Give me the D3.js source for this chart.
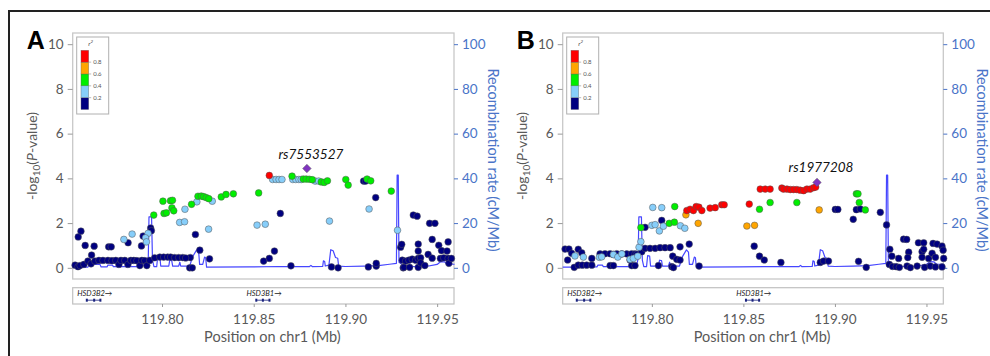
<!DOCTYPE html>
<html><head><meta charset="utf-8">
<script src="https://cdn.jsdelivr.net/npm/d3@7"></script>
<style>body{margin:0;background:#fff}svg{display:block}</style>
</head><body>
<svg id="c" width="990" height="356"></svg>
<script>
// ---------------- DATA ----------------
const xTicks = [119.80, 119.85, 119.90, 119.95];
const yTicks = [0, 2, 4, 6, 8, 10];
const recTicks = [0, 20, 40, 60, 80, 100];
const legendBreaks = [0.8, 0.6, 0.4, 0.2];
const r2Bins = [0, 0.2, 0.4, 0.6, 0.8, 1.0];
const r2Colors = ["#000080", "#87cefa", "#00ee00", "#ffa500", "#ff0000"];
const leadColor = "#8034c0";

const genes = [
  {name: "HSD3B2", start: 119.7589, end: 119.7667, exons: [119.7590, 119.7630, 119.7664]},
  {name: "HSD3B1", start: 119.8513, end: 119.8589, exons: [119.8514, 119.8550, 119.8586]}
];

// recombination rate (cM/Mb) along position (Mb)
const recomb = [
  [119.7513,0.3],[119.7596,0.3],[119.7602,1.5],[119.7662,1.5],[119.7668,0.4],[119.7700,0.4],[119.7705,1.2],[119.7730,1.2],
  [119.7735,0.5],[119.7879,0.5],[119.7890,1.3],[119.7917,1.3],[119.7925,4],[119.7929,22.8],[119.7943,22.8],[119.7948,3.4],
  [119.7956,0.5],[119.7971,0.5],[119.7977,5.5],[119.7988,5.2],[119.7993,0.8],[119.8037,0.8],[119.8042,3.4],[119.8053,3.2],
  [119.8058,0.8],[119.8091,0.8],[119.8097,2.5],[119.8102,0.8],[119.8151,0.8],[119.8167,5],[119.8189,8],[119.8200,7],
  [119.8205,1.5],[119.8222,1.5],[119.8232,4.8],[119.8238,4.5],[119.8243,0.3],[119.8477,0.4],[119.8640,0.6],[119.8803,0.5],
  [119.8812,1.1],[119.8820,0.5],[119.8876,0.6],[119.8880,3.1],[119.8887,2.8],[119.8890,0.8],[119.8910,1.2],[119.8920,8.1],
  [119.8933,7.6],[119.8946,4.6],[119.8958,4.3],[119.8963,0.8],[119.9000,0.6],[119.9100,0.8],[119.9180,1.0],[119.9240,1.6],
  [119.9278,2.0],[119.9282,41.5],[119.9288,41.5],[119.9292,2.5],[119.9300,2.0],[119.9320,0.6],[119.9440,0.6],[119.9500,1.5],
  [119.9520,2.8],[119.9540,2.7],[119.9555,1.6],[119.9595,1.6]
];

// SNPs: [position Mb, -log10 P, r2]
const snpsA = [
  [119.7543,1.38,0.1],[119.7558,1.64,0.1],[119.7581,1.00,0.1],[119.7630,0.97,0.1],[119.7616,0.57,0.1],[119.7709,0.94,0.1],
  [119.7723,0.94,0.1],[119.7815,1.12,0.1],[119.7897,1.42,0.1],[119.7888,0.98,0.1],[119.7938,1.78,0.1],[119.7942,1.66,0.1],
  [119.8182,1.49,0.1],[119.8206,0.79,0.1],[119.8259,0.40,0.1],[119.8154,0.46,0.1],[119.8151,0.00,0.1],[119.8165,0.00,0.1],
  [119.7526,0.12,0.1],[119.7542,0.05,0.1],[119.7553,0.10,0.1],[119.7574,0.15,0.1],[119.7596,0.30,0.1],[119.7613,0.18,0.1],
  [119.7634,0.30,0.1],[119.7656,0.33,0.1],[119.7678,0.33,0.1],[119.7705,0.33,0.1],[119.7727,0.32,0.1],[119.7748,0.33,0.1],
  [119.7765,0.15,0.1],[119.7776,0.33,0.1],[119.7797,0.33,0.1],[119.7814,0.15,0.1],[119.7830,0.33,0.1],[119.7846,0.33,0.1],
  [119.7863,0.32,0.1],[119.7879,0.10,0.1],[119.7890,0.33,0.1],[119.7906,0.32,0.1],[119.7917,0.10,0.1],[119.7933,0.33,0.1],
  [119.7960,0.45,0.1],[119.7988,0.48,0.1],[119.8009,0.48,0.1],[119.8031,0.48,0.1],[119.8047,0.48,0.1],[119.8069,0.46,0.1],
  [119.8091,0.46,0.1],[119.8113,0.46,0.1],[119.8129,0.44,0.1],
  [119.8645,2.43,0.1],[119.9165,3.14,0.1],[119.9099,3.88,0.1],[119.9110,3.88,0.1],[119.8613,0.75,0.1],[119.8585,0.42,0.1],
  [119.8554,0.30,0.1],[119.8703,0.09,0.1],[119.8924,0.04,0.1],[119.8960,0.00,0.1],[119.9125,0.04,0.1],[119.9168,0.08,0.1],
  [119.9168,0.20,0.1],
  [119.9301,0.92,0.1],[119.9307,1.05,0.1],[119.9310,0.34,0.1],[119.9315,0.00,0.1],[119.9328,0.30,0.1],[119.9319,0.02,0.1],
  [119.9346,0.34,0.1],[119.9350,0.02,0.1],[119.9364,0.39,0.1],[119.9383,0.34,0.1],[119.9370,2.36,0.1],[119.9391,2.31,0.1],
  [119.9397,1.06,0.1],[119.9397,0.75,0.1],[119.9397,0.42,0.1],[119.9397,0.02,0.1],[119.9410,0.45,0.1],[119.9410,0.22,0.1],
  [119.9433,0.10,0.1],[119.9451,0.60,0.1],[119.9459,1.99,0.1],[119.9488,1.99,0.1],[119.9473,1.27,0.1],[119.9473,0.43,0.1],
  [119.9509,1.01,0.1],[119.9518,0.42,0.1],[119.9524,0.77,0.1],[119.9536,0.45,0.1],[119.9554,0.75,0.1],[119.9560,1.16,0.1],
  [119.9560,0.42,0.1],[119.9564,0.20,0.1],[119.9578,0.42,0.1],
  [119.7792,1.27,0.3],[119.7837,1.51,0.3],[119.7924,1.54,0.3],[119.7910,1.34,0.3],[119.7915,1.16,0.3],[119.8125,2.62,0.3],
  [119.8096,2.03,0.3],[119.8123,2.06,0.3],[119.8190,2.95,0.3],[119.8274,2.98,0.3],[119.8254,1.73,0.3],[119.8518,1.91,0.3],
  [119.8563,1.95,0.3],[119.8603,3.95,0.3],[119.8622,3.95,0.3],[119.8638,3.95,0.3],[119.8654,3.95,0.3],[119.8713,3.95,0.3],
  [119.8729,3.95,0.3],[119.8746,3.95,0.3],[119.8759,3.95,0.3],[119.8835,3.88,0.3],[119.8854,3.88,0.3],[119.8913,2.09,0.3],
  [119.9129,2.63,0.3],[119.9284,1.68,0.3],
  [119.7955,2.36,0.5],[119.8005,2.98,0.5],[119.8046,3.00,0.5],[119.8057,3.02,0.5],[119.8011,2.43,0.5],[119.8024,2.46,0.5],
  [119.8054,2.68,0.5],[119.8064,2.55,0.5],[119.8161,2.84,0.5],[119.8196,3.20,0.5],[119.8214,3.21,0.5],[119.8227,3.18,0.5],
  [119.8241,3.14,0.5],[119.8255,3.09,0.5],[119.8323,3.17,0.5],[119.8349,3.28,0.5],[119.8389,3.31,0.5],[119.8527,3.35,0.5],
  [119.8709,4.10,0.5],[119.8770,3.97,0.5],[119.8786,3.97,0.5],[119.8803,3.96,0.5],[119.8819,3.94,0.5],[119.8868,3.84,0.5],
  [119.8884,3.82,0.5],[119.8902,3.89,0.5],[119.9002,3.95,0.5],[119.9015,3.70,0.5],[119.9118,3.97,0.5],[119.9138,3.89,0.5],
  [119.9250,3.43,0.5],
  [119.8585,4.13,0.9]
];
const leadA = {name: "rs7553527", pos: 119.8790, logp: 4.44};

const snpsB = [
  [119.7526,0.84,0.1],[119.7547,0.84,0.1],[119.7562,0.65,0.1],[119.7540,0.35,0.1],[119.7598,0.83,0.1],[119.7617,0.67,0.1],
  [119.7576,0.02,0.1],[119.7598,0.12,0.1],[119.7620,0.12,0.1],[119.7644,0.12,0.1],[119.7672,0.12,0.1],[119.7672,0.42,0.1],
  [119.7717,0.62,0.1],[119.7744,0.63,0.1],[119.7772,0.63,0.1],[119.7790,0.60,0.1],[119.7808,0.63,0.1],[119.7836,0.62,0.1],
  [119.7863,0.62,0.1],[119.7890,0.63,0.1],[119.7908,0.62,0.1],[119.7772,0.10,0.1],[119.7790,0.10,0.1],[119.7881,0.35,0.1],
  [119.7890,0.10,0.1],[119.7908,0.10,0.1],[119.7918,0.60,0.1],[119.7945,0.72,0.1],[119.7963,1.81,0.1],[119.7963,0.87,0.1],
  [119.7990,0.87,0.1],[119.8018,0.87,0.1],[119.8045,0.90,0.1],[119.8072,0.90,0.1],[119.8100,0.90,0.1],[119.8054,2.12,0.1],
  [119.8036,0.10,0.1],[119.8109,0.05,0.1],[119.8118,0.01,0.1],[119.8114,0.52,0.1],[119.8136,0.38,0.1],[119.8154,0.35,0.1],
  [119.8154,0.94,0.1],[119.8204,1.06,0.1],[119.8258,0.08,0.1],
  [119.8559,0.97,0.1],[119.8588,0.52,0.1],[119.8614,0.35,0.1],[119.8705,0.24,0.1],[119.8920,0.24,0.1],[119.8938,0.30,0.1],
  [119.8965,0.30,0.1],[119.9002,2.61,0.1],[119.9016,2.61,0.1],[119.9100,2.17,0.1],[119.9117,2.60,0.1],[119.9139,2.63,0.1],
  [119.9129,0.29,0.1],[119.9171,0.02,0.1],[119.9248,2.48,0.1],[119.9282,1.92,0.1],
  [119.9300,0.83,0.1],[119.9311,0.52,0.1],[119.9297,0.15,0.1],[119.9315,0.06,0.1],[119.9335,0.05,0.1],[119.9352,0.02,0.1],
  [119.9348,0.42,0.1],[119.9375,1.28,0.1],[119.9392,1.27,0.1],[119.9403,0.70,0.1],[119.9398,0.46,0.1],[119.9394,0.08,0.1],
  [119.9412,0.01,0.1],[119.9456,1.12,0.1],[119.9485,1.12,0.1],[119.9476,0.72,0.1],[119.9485,0.83,0.1],[119.9476,0.47,0.1],
  [119.9449,0.08,0.1],[119.9490,0.02,0.1],[119.9512,0.42,0.1],[119.9536,1.09,0.1],[119.9558,1.06,0.1],[119.9531,0.65,0.1],
  [119.9549,0.47,0.1],[119.9521,0.08,0.1],[119.9549,0.04,0.1],[119.9585,0.97,0.1],[119.9591,0.79,0.1],[119.9594,0.42,0.1],
  [119.9585,0.04,0.1],
  [119.7580,0.53,0.3],[119.7626,0.48,0.3],[119.7713,0.47,0.3],[119.7726,0.49,0.3],[119.7790,0.59,0.3],[119.7814,0.48,0.3],
  [119.7836,0.62,0.3],[119.7881,0.38,0.3],[119.7899,0.42,0.3],[119.7923,0.52,0.3],[119.7930,0.92,0.3],[119.7940,1.17,0.3],
  [119.8005,2.70,0.3],[119.8054,2.69,0.3],[119.8000,1.90,0.3],[119.8018,1.93,0.3],[119.8041,1.65,0.3],[119.8063,1.86,0.3],
  [119.8156,1.88,0.3],[119.8180,1.77,0.3],
  [119.7940,1.80,0.5],[119.8095,1.99,0.5],[119.8123,2.04,0.5],[119.8125,2.74,0.5],[119.8588,2.62,0.5],[119.8646,2.92,0.5],
  [119.8792,2.92,0.5],[119.9117,3.31,0.5],[119.9126,3.31,0.5],[119.9133,2.92,0.5],[119.9166,2.59,0.5],
  [119.8186,2.37,0.7],[119.8253,1.99,0.7],[119.8519,1.87,0.7],[119.8561,1.90,0.7],[119.8914,2.59,0.7],
  [119.8191,2.56,0.9],[119.8209,2.62,0.9],[119.8227,2.56,0.9],[119.8242,2.74,0.9],[119.8257,2.71,0.9],[119.8273,2.56,0.9],
  [119.8318,2.67,0.9],[119.8346,2.69,0.9],[119.8382,2.82,0.9],[119.8395,2.82,0.9],[119.8532,2.85,0.9],[119.8592,3.52,0.9],
  [119.8619,3.52,0.9],[119.8646,3.52,0.9],[119.8710,3.57,0.9],[119.8719,3.52,0.9],[119.8738,3.52,0.9],[119.8756,3.50,0.9],
  [119.8774,3.50,0.9],[119.8792,3.50,0.9],[119.8810,3.47,0.9],[119.8829,3.45,0.9],[119.8847,3.52,0.9],[119.8865,3.52,0.9],
  [119.8883,3.58,0.9],[119.8895,3.61,0.9]
];
const leadB = {name: "rs1977208", pos: 119.8902, logp: 3.82};

// ---------------- DRAW ----------------
const svg = d3.select("#c");
const FONT = "Lato, 'Open Sans', sans-serif";
const GREY = "#595959", BLUE_T = "#4a74c8", REC = "#4646ff";
const xDomain = [119.7513, 119.9592];
const color = r => r2Colors[Math.min(4, Math.floor(r / 0.2))];

svg.append("rect").attr("x", 9).attr("y", 11).attr("width", 1000).attr("height", 360)
  .attr("fill", "none").attr("stroke", "#222").attr("stroke-width", 2);

function panel(o) {
  const x = d3.scaleLinear().domain(xDomain).range([o.left, o.right]);
  const y = d3.scaleLinear().domain([-0.5, 10.5]).range([279, 33]);
  const yr = d3.scaleLinear().domain([-5, 105]).range([279, 33]);
  const g = svg.append("g");

  g.append("text").attr("x", o.left - 46).attr("y", 48.5).text(o.letter)
    .attr("font-family", "'Liberation Sans', Arial, sans-serif").attr("font-weight", "bold")
    .attr("font-size", 25).attr("fill", "#000");

  g.append("rect").attr("x", o.left).attr("y", 33).attr("width", o.right - o.left).attr("height", 246)
    .attr("fill", "#fff").attr("stroke", "#c8c8c8").attr("stroke-width", 1.3);

  const ay = g.append("g").attr("transform", `translate(${o.left},0)`)
    .call(d3.axisLeft(y).tickValues(yTicks).tickSize(5).tickPadding(4));
  ay.select(".domain").remove();
  ay.selectAll("line").attr("stroke", "#9a9a9a");
  ay.selectAll("text").attr("font-family", FONT).attr("font-size", 13.5).attr("fill", GREY);

  const ar = g.append("g").attr("transform", `translate(${o.right},0)`)
    .call(d3.axisRight(yr).tickValues(recTicks).tickSize(4).tickPadding(4));
  ar.select(".domain").remove();
  ar.selectAll("line").attr("stroke", BLUE_T);
  ar.selectAll("text").attr("font-family", FONT).attr("font-size", 13.5).attr("fill", BLUE_T);

  const lt = g.append("text").attr("transform", `translate(${o.left - 36},156) rotate(-90)`)
    .attr("text-anchor", "middle").attr("font-family", FONT).attr("font-size", 14).attr("fill", GREY);
  lt.append("tspan").text("-log");
  lt.append("tspan").text("10").attr("font-size", 10).attr("dy", 3);
  lt.append("tspan").text("(").attr("dy", -3);
  lt.append("tspan").text("P").attr("font-style", "italic");
  lt.append("tspan").text("-value)");

  g.append("text").attr("transform", `translate(${o.right + 34},160) rotate(90)`)
    .attr("text-anchor", "middle").attr("font-family", FONT).attr("font-size", 14.5).attr("fill", BLUE_T)
    .text("Recombination rate (cM/Mb)");

  g.append("path").datum(recomb)
    .attr("d", d3.line().x(d => x(d[0])).y(d => yr(d[1])))
    .attr("fill", "none").attr("stroke", REC).attr("stroke-width", 1.2).attr("stroke-linejoin", "round");

  const pts = o.snps.slice().sort((a, b) => a[2] - b[2]);
  g.append("g").selectAll("circle").data(pts).join("circle")
    .attr("cx", d => x(d[0])).attr("cy", d => y(d[1])).attr("r", 3.35)
    .attr("fill", d => color(d[2])).attr("stroke", "#555").attr("stroke-width", 0.5);

  g.append("path").attr("d", d3.symbol(d3.symbolDiamond2, 46)())
    .attr("transform", `translate(${x(o.lead.pos)},${y(o.lead.logp)})`)
    .attr("fill", leadColor).attr("stroke", "#555").attr("stroke-width", 0.5);
  g.append("text").attr("x", x(o.lead.pos) + 4).attr("y", y(o.lead.logp) - 10)
    .attr("text-anchor", "middle").attr("font-family", FONT).attr("font-style", "italic")
    .attr("font-size", 13.5).attr("fill", "#111").text(o.lead.name);

  const lx = o.left + 4, ly = 37;
  const lg = g.append("g");
  lg.append("rect").attr("x", lx).attr("y", ly).attr("width", 32).attr("height", 77)
    .attr("fill", "#fff").attr("stroke", "#b0b0b0").attr("stroke-width", 1);
  lg.append("text").attr("x", lx + 14).attr("y", ly + 8.5).attr("text-anchor", "middle")
    .attr("font-family", FONT).attr("font-style", "italic").attr("font-size", 6.5).attr("fill", "#444")
    .text("r").append("tspan").text("2").attr("font-size", 4.5).attr("dy", -3);
  const ls = d3.scaleLinear().domain([1, 0]).range([ly + 13.3, ly + 72.5]);
  const bins = d3.range(5).map(i => [r2Bins[i], r2Bins[i + 1], r2Colors[i]]);
  lg.selectAll("rect.b").data(bins).join("rect").attr("class", "b")
    .attr("x", lx + 4.3).attr("width", 7.7)
    .attr("y", d => ls(d[1])).attr("height", d => ls(d[0]) - ls(d[1]))
    .attr("fill", d => d[2]).attr("stroke", "#666").attr("stroke-width", 0.4);
  lg.selectAll("line.t").data(legendBreaks).join("line").attr("class", "t")
    .attr("x1", lx + 12).attr("x2", lx + 14.5).attr("y1", d => ls(d)).attr("y2", d => ls(d))
    .attr("stroke", "#777").attr("stroke-width", 0.5);
  lg.selectAll("text.l").data(legendBreaks).join("text").attr("class", "l")
    .attr("x", lx + 16.5).attr("y", d => ls(d) + 2).text(d => d.toFixed(1))
    .attr("font-family", FONT).attr("font-size", 6).attr("fill", "#555");

  const gt = g.append("g");
  gt.append("rect").attr("x", o.left).attr("y", 287.7).attr("width", o.right - o.left).attr("height", 16.3)
    .attr("fill", "#fff").attr("stroke", "#c0c0c0").attr("stroke-width", 1.2);
  genes.forEach(gn => {
    const cx = (x(gn.start) + x(gn.end)) / 2;
    gt.append("text").attr("x", cx + 1).attr("y", 296.3).attr("text-anchor", "middle")
      .attr("font-family", FONT).attr("font-style", "italic").attr("font-size", 7.5).attr("fill", "#222")
      .text(gn.name + "\u2192");
    gt.append("line").attr("x1", x(gn.start)).attr("x2", x(gn.end)).attr("y1", 300.2).attr("y2", 300.2)
      .attr("stroke", "#1a237e").attr("stroke-width", 0.8);
    gn.exons.forEach(e => gt.append("rect").attr("x", x(e) - 1).attr("y", 298.7).attr("width", 2).attr("height", 3)
      .attr("fill", "#1a237e"));
  });

  const ax = g.append("g").attr("transform", "translate(0,304)")
    .call(d3.axisBottom(x).tickValues(xTicks).tickFormat(d3.format(".2f")).tickSize(3).tickPadding(7));
  ax.select(".domain").remove();
  ax.selectAll("line").attr("stroke", "#9a9a9a");
  ax.selectAll("text").attr("font-family", FONT).attr("font-size", 13.5).attr("fill", GREY);

  g.append("text").attr("x", (o.left + o.right) / 2 + 9).attr("y", 341.5).attr("text-anchor", "middle")
    .attr("font-family", FONT).attr("font-size", 14.5).attr("fill", GREY).text("Position on chr1 (Mb)");
}

panel({letter: "A", left: 72.7, right: 454, snps: snpsA, lead: leadA});
panel({letter: "B", left: 562.7, right: 943.3, snps: snpsB, lead: leadB});
</script>
</body></html>
